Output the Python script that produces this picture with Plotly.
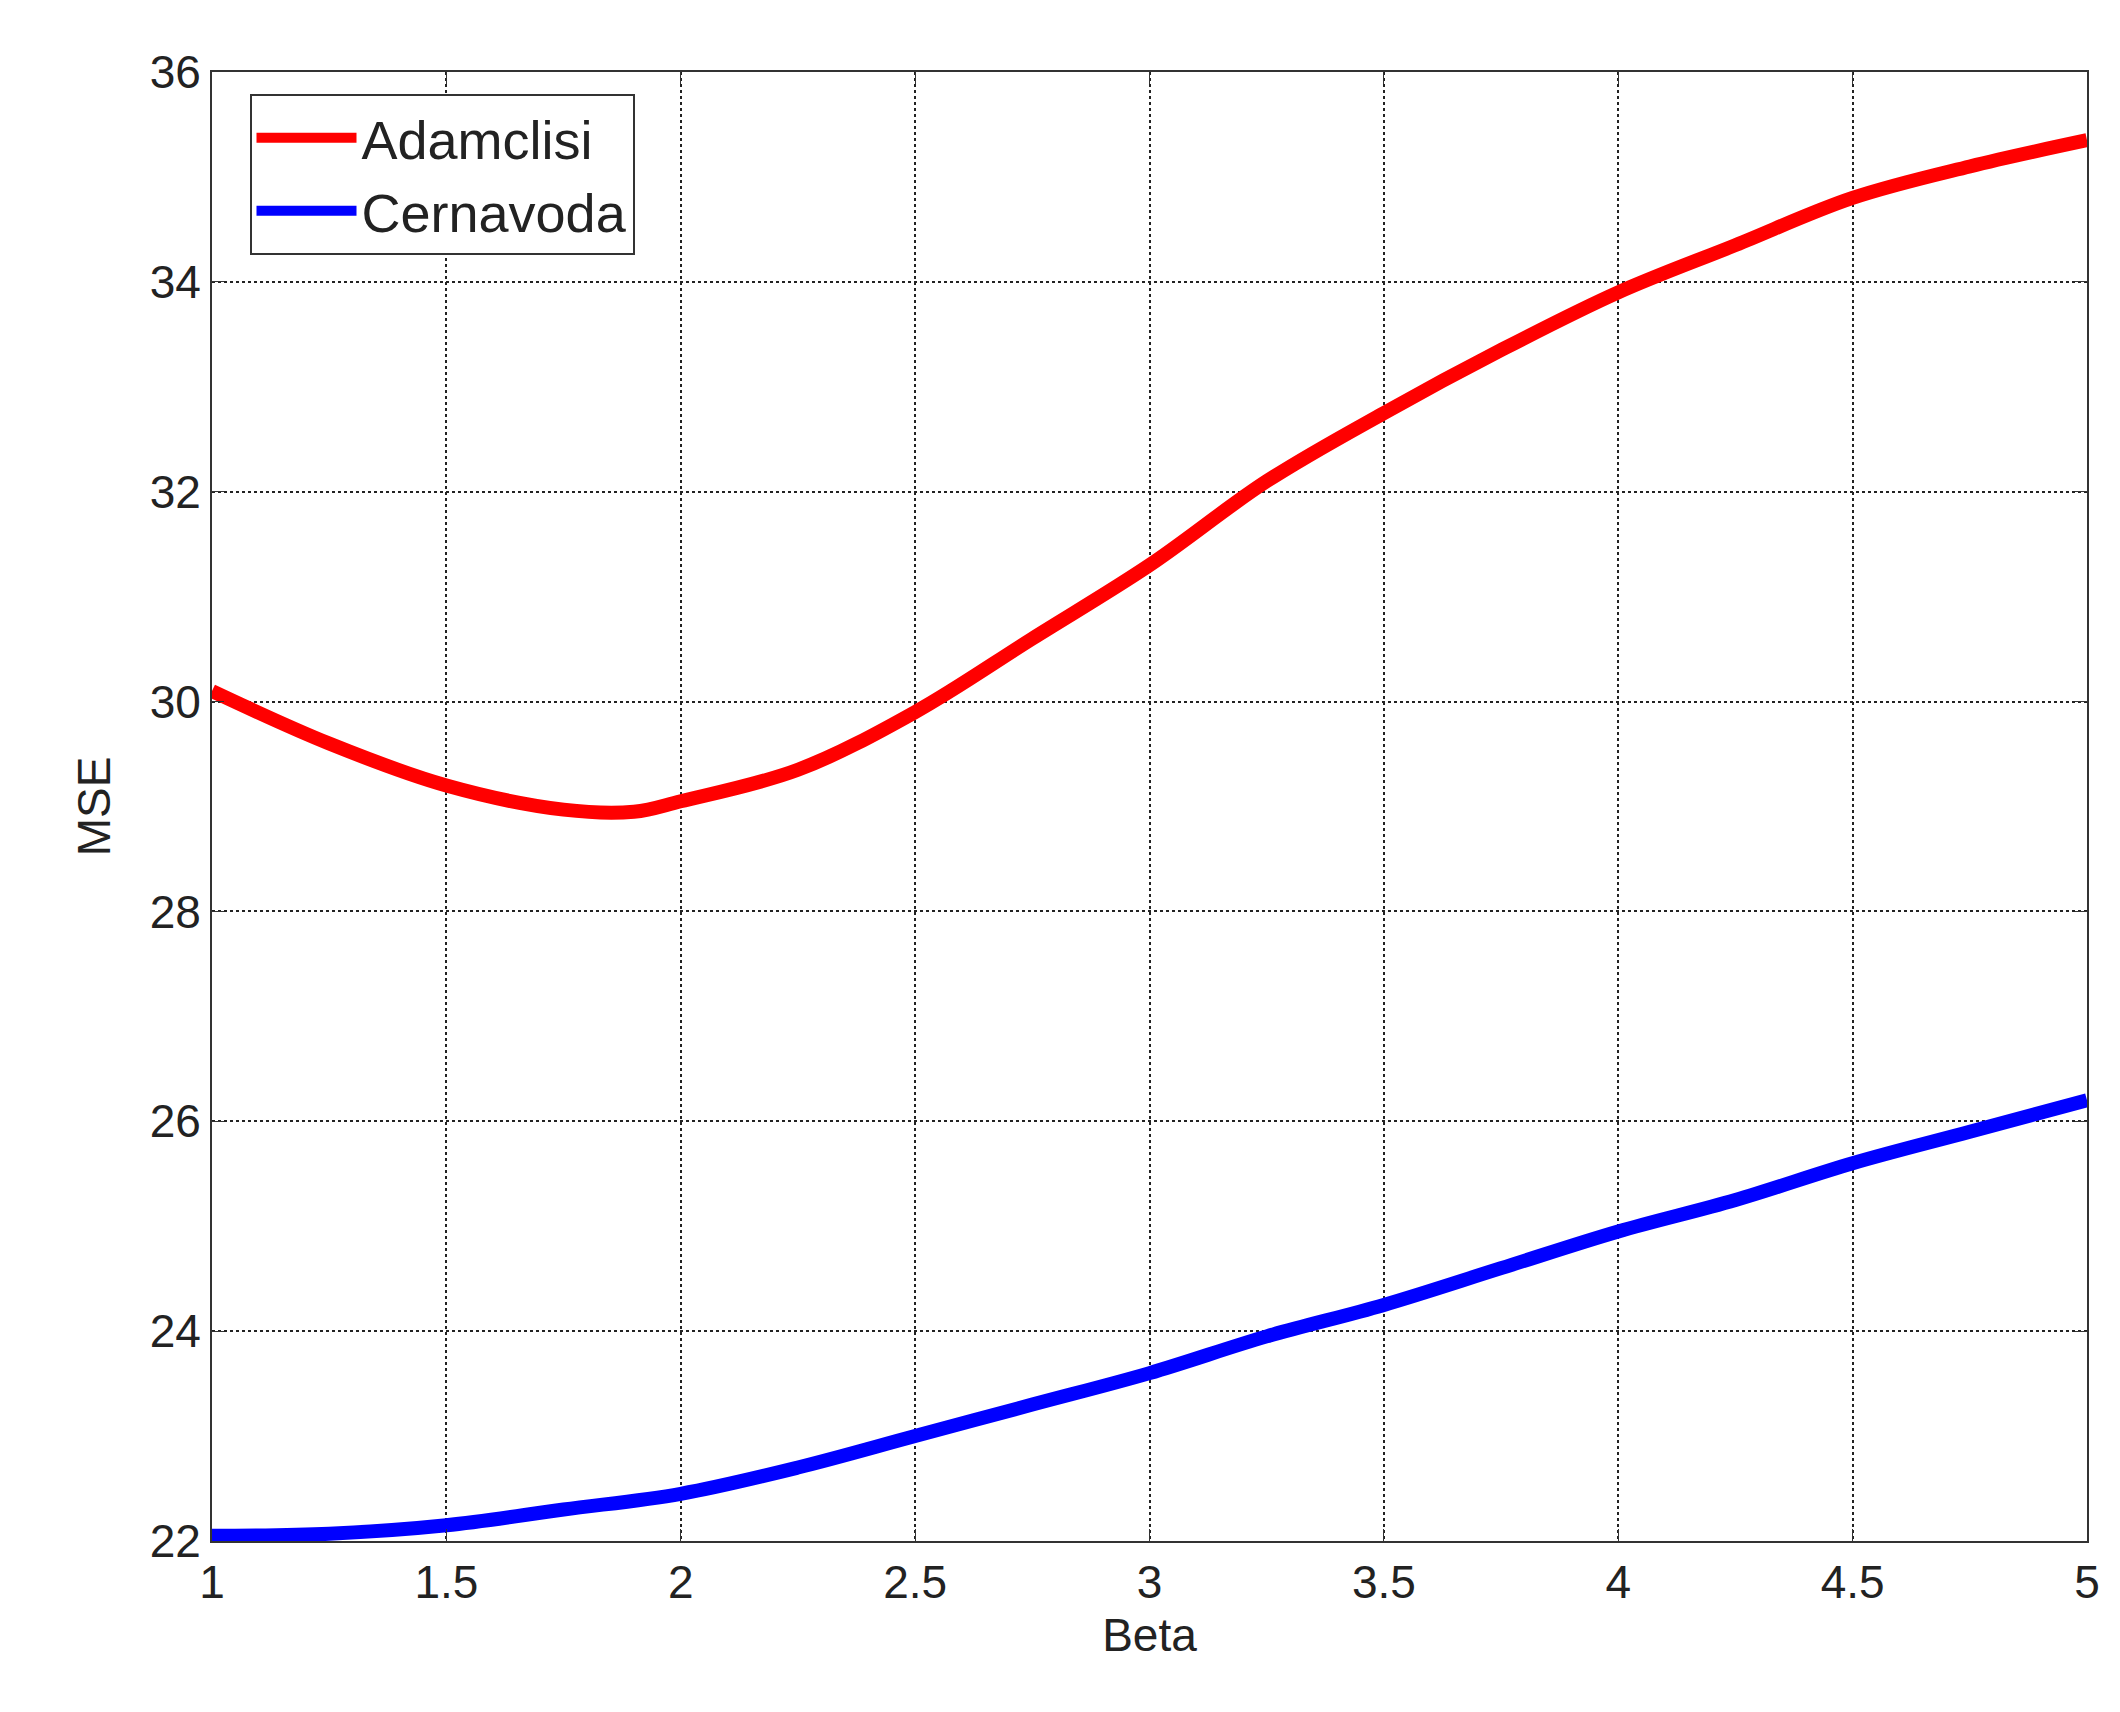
import plotly.graph_objects as go

beta = [1, 1.25, 1.5, 1.75, 1.9, 2, 2.25, 2.5, 2.75, 3, 3.25, 3.5, 3.75, 4, 4.25, 4.5, 4.75, 5]
adamclisi = [30.1, 29.6, 29.2, 28.97, 28.95, 29.05, 29.35, 29.9, 30.6, 31.3, 32.1, 32.75, 33.35, 33.9, 34.35, 34.8, 35.1, 35.35]
beta_c = [1, 1.25, 1.5, 1.75, 2, 2.25, 2.5, 2.75, 3, 3.25, 3.5, 3.75, 4, 4.25, 4.5, 4.75, 5]
cernavoda = [22.05, 22.07, 22.15, 22.3, 22.45, 22.7, 23.0, 23.3, 23.6, 23.95, 24.25, 24.6, 24.95, 25.25, 25.6, 25.9, 26.2]

fig = go.Figure()
fig.add_trace(go.Scatter(x=beta, y=adamclisi, mode="lines", name="Adamclisi",
                         line=dict(color="#ff0000", width=14, shape="spline")))
fig.add_trace(go.Scatter(x=beta_c, y=cernavoda, mode="lines", name="Cernavoda",
                         line=dict(color="#0000ff", width=14, shape="spline")))

axis_style = dict(showline=True, linecolor="#333", linewidth=2, mirror="ticks",
                  ticks="inside", ticklen=12, tickcolor="#333",
                  showgrid=True, gridcolor="#222", griddash="dot", gridwidth=2,
                  zeroline=False, tickfont=dict(size=46, color="#222"))

fig.update_xaxes(range=[1, 5], dtick=0.5, title=dict(text="Beta", font=dict(size=46), standoff=12),
                 **axis_style)
fig.update_yaxes(range=[22, 36], dtick=2, title=dict(text="MSE", font=dict(size=46), standoff=25),
                 **axis_style)

fig.update_layout(
    width=2120, height=1712,
    margin=dict(l=204, r=41, t=64, b=179),
    plot_bgcolor="white", paper_bgcolor="white",
    font=dict(family="Liberation Sans, Arial", color="#222"),
    legend=dict(x=0.02, y=0.985, xanchor="left", yanchor="top",
                bgcolor="white", bordercolor="#333", borderwidth=2,
                font=dict(size=54), itemwidth=100, tracegroupgap=20),
)

fig.write_html("out.html")
